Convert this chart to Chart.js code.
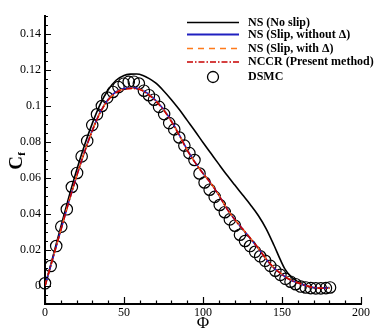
<!DOCTYPE html>
<html>
<head>
<meta charset="utf-8">
<script src="https://cdn.jsdelivr.net/npm/chart.js@4.4.1/dist/chart.umd.min.js"></script>
<style>
html,body{margin:0;padding:0;background:#fff;}
canvas{display:block;}
</style>
</head>
<body>
<canvas id="c" width="374" height="332"></canvas>
<script>
// ---- data ----
const xTicks = [0, 50, 100, 150, 200];
const yTicks = [0, 0.02, 0.04, 0.06, 0.08, 0.1, 0.12, 0.14];

const nsNoSlipX = [0,5,10,15,20,25,30,35,40,45,50,54,58,62,66,70,75,80,85,90,95,100,105,110,115,120,125,130,135,140,145,149,152,155,158,162,166,170,175,180];
const nsNoSlipY = [0,0.0163,0.0328,0.049,0.0643,0.0782,0.0905,0.101,0.109,0.1143,0.117,0.1177,0.1178,0.117,0.1152,0.1128,0.1085,0.1035,0.098,0.092,0.086,0.0797,0.0737,0.0677,0.0618,0.0562,0.0507,0.0452,0.0392,0.0318,0.0225,0.0145,0.0092,0.0058,0.0035,0.0014,-0.0002,-0.001,-0.0011,-0.0009];

const slipX = [0,5,10,15,20,25,30,35,40,45,50,55,60,65,70,75,80,85,90,95,100,105,110,115,120,125,130,135,140,145,150,155,160,165,170,175,180];
const slipNoDeltaY = [0,0.0155,0.031,0.0465,0.061,0.0745,0.0866,0.0967,0.1038,0.1079,0.1097,0.1101,0.1095,0.107,0.1032,0.0982,0.0917,0.084,0.0757,0.0687,0.0626,0.057,0.0505,0.0431,0.037,0.0317,0.0264,0.0208,0.0149,0.0099,0.0064,0.0035,0.0017,0.0002,-0.0008,-0.0012,-0.0012];
const slipDeltaY   = [0,0.0155,0.031,0.0465,0.061,0.0745,0.0865,0.0965,0.1035,0.1076,0.1094,0.1099,0.1093,0.1068,0.103,0.098,0.0915,0.0838,0.0756,0.0686,0.0626,0.0571,0.0506,0.0432,0.0371,0.0318,0.0265,0.021,0.015,0.01,0.0065,0.0036,0.0018,0.0002,-0.0008,-0.0012,-0.0012];
const nccrY        = [0,0.0155,0.031,0.0465,0.061,0.0744,0.0864,0.0964,0.1033,0.1074,0.1092,0.1097,0.1091,0.1066,0.1028,0.0978,0.0913,0.0837,0.0754,0.0685,0.0625,0.057,0.0505,0.043,0.037,0.0318,0.0265,0.021,0.015,0.01,0.0065,0.0035,0.0018,0.0002,-0.0008,-0.0012,-0.0012];

const dsmcX = [0,3.6,7.1,10.3,13.8,17,20.3,23.2,26.7,29.9,32.9,36,39.4,43,46.5,49.8,53,56.2,59.4,62.6,65.8,69,72.2,75.4,78.6,81.8,85,88.2,91.4,94.6,97.8,101,104.2,107.4,110.6,113.8,117,120.2,123.4,126.6,129.8,133,136.2,139.4,142.6,145.8,149,152.2,155.4,158.6,161.8,165,168.2,171.4,174.6,177.8,180.4];
const dsmcY = [0.0015,0.0111,0.0222,0.033,0.0426,0.055,0.0628,0.072,0.0806,0.0894,0.0954,0.1,0.1047,0.1078,0.1105,0.1124,0.1134,0.1135,0.1125,0.1085,0.106,0.1035,0.0995,0.0955,0.0905,0.087,0.0825,0.078,0.0738,0.07,0.0625,0.0575,0.0535,0.0495,0.045,0.041,0.037,0.0335,0.0285,0.025,0.0222,0.019,0.0165,0.014,0.0112,0.0085,0.0062,0.004,0.0024,0.001,-0.0003,-0.0008,-0.0012,-0.0013,-0.0013,-0.0012,-0.0008];

const seriesNames = ['NS (No slip)', 'NS (Slip, without \u0394)', 'NS (Slip, with \u0394)', 'NCCR (Present method)', 'DSMC'];

function pts(xs, ys){ return xs.map((x,i)=>({x:x, y:ys[i]})); }

const SERIF = '"Liberation Serif","Times New Roman",serif';

// inside ticks
const X_MINOR = 10, Y_MINOR = 0.005;
const insideTicks = {
  id:'insideTicks',
  afterDraw(chart){
    const ctx = chart.ctx, xs = chart.scales.x, ys = chart.scales.y;
    const L = chart.chartArea.left, B = chart.chartArea.bottom;
    ctx.save();
    ctx.strokeStyle = '#000';
    ctx.lineWidth = 1.2;
    ctx.beginPath();
    for (let v = xs.min; v <= xs.max + 1e-9; v += X_MINOR){
      const px = Math.round(xs.getPixelForValue(v)) + 0.5;
      const major = Math.abs(v % 50) < 1e-6;
      ctx.moveTo(px, B); ctx.lineTo(px, B - (major ? 7 : 3.5));
    }
    for (let k = 0; ; k++){
      const v = ys.min + k * Y_MINOR;
      if (v > ys.max + 1e-9) break;
      const py = Math.round(ys.getPixelForValue(v)) + 0.5;
      const major = Math.abs(Math.round(v*1000) % 20) === 0;
      ctx.moveTo(L, py); ctx.lineTo(L + (major ? 6 : 3), py);
    }
    ctx.stroke();
    ctx.restore();
  }
};

// titles and legend
const decorations = {
  id:'decorations',
  afterDraw(chart){
    const ctx = chart.ctx;
    ctx.save();
    ctx.fillStyle = '#000';
    // y title C_f (rotated)
    ctx.translate(17, 160);
    ctx.rotate(-Math.PI/2);
    ctx.font = 'bold 19px ' + SERIF;
    ctx.textAlign = 'center';
    ctx.textBaseline = 'middle';
    ctx.fillText('C', -3, 0);
    ctx.font = 'bold 11px ' + SERIF;
    ctx.fillText('f', 6, 5);
    ctx.restore();

    ctx.save();
    ctx.fillStyle = '#000';
    ctx.font = '17px ' + SERIF;
    ctx.textAlign = 'center';
    ctx.textBaseline = 'middle';
    ctx.fillText('\u03A6', 203, 324);

    // legend
    const x0 = 187, x1 = 239, tx = 248;
    const rows = [22.5, 34.5, 48.5, 62, 77];
    const styles = [
      {c:'#000000', w:1.6, d:[]},
      {c:'#2020c0', w:1.8, d:[]},
      {c:'#ff7a1a', w:1.6, d:[6,5]},
      {c:'#c80000', w:1.6, d:[6,2,1.5,2]}
    ];
    ctx.font = 'bold 12px ' + SERIF;
    ctx.textAlign = 'left';
    for (let i = 0; i < 5; i++){
      const y = rows[i];
      if (i < 4){
        ctx.beginPath();
        ctx.strokeStyle = styles[i].c;
        ctx.lineWidth = styles[i].w;
        ctx.setLineDash(styles[i].d);
        ctx.moveTo(x0, y); ctx.lineTo(x1, y);
        ctx.stroke();
        ctx.setLineDash([]);
      } else {
        ctx.beginPath();
        ctx.strokeStyle = '#000';
        ctx.lineWidth = 1.3;
        ctx.arc(213, y, 5.5, 0, Math.PI*2);
        ctx.stroke();
      }
      ctx.fillStyle = '#000';
      ctx.fillText(seriesNames[i], tx, y);
    }
    ctx.restore();
  }
};

new Chart(document.getElementById('c'), {
  type:'scatter',
  data:{
    datasets:[
      {label:seriesNames[4], data:pts(dsmcX, dsmcY), showLine:false, pointRadius:5.7, pointHoverRadius:5.7,
       pointBorderColor:'#000', pointBackgroundColor:'rgba(0,0,0,0)', pointBorderWidth:1.2, clip:false, order:5},
      {label:seriesNames[0], data:pts(nsNoSlipX, nsNoSlipY), showLine:true, pointRadius:0, borderColor:'#000', borderWidth:1.6, cubicInterpolationMode:'monotone', order:4},
      {label:seriesNames[1], data:pts(slipX, slipNoDeltaY), showLine:true, pointRadius:0, borderColor:'#2020c0', borderWidth:1.6, cubicInterpolationMode:'monotone', order:3},
      {label:seriesNames[2], data:pts(slipX, slipDeltaY), showLine:true, pointRadius:0, borderColor:'#ff7a1a', borderWidth:1.5, borderDash:[6,5], cubicInterpolationMode:'monotone', order:2},
      {label:seriesNames[3], data:pts(slipX, nccrY), showLine:true, pointRadius:0, borderColor:'#c80000', borderWidth:1.5, borderDash:[6,2,1.5,2], cubicInterpolationMode:'monotone', order:1}
    ]
  },
  options:{
    responsive:false,
    animation:false,
    devicePixelRatio:1,
    layout:{padding:{top:16, right:13, left:0, bottom:0}},
    plugins:{legend:{display:false}, tooltip:{enabled:false}},
    scales:{
      x:{
        type:'linear', min:0, max:200,
        afterBuildTicks(s){ s.ticks = xTicks.map(v=>({value:v})); },
        ticks:{color:'#000', font:{family:SERIF, size:12}, padding:2, maxRotation:0, callback:v=>String(v)},
        grid:{display:false, drawTicks:false},
        border:{display:true, color:'#000', width:2},
        afterFit(s){ s.height = 28; }
      },
      y:{
        type:'linear', min:-0.01, max:0.15,
        afterBuildTicks(s){ s.ticks = yTicks.map(v=>({value:v})); },
        ticks:{color:'#000', font:{family:SERIF, size:12}, padding:4, callback:v=>String(parseFloat(Number(v).toFixed(3)))},
        grid:{display:false, drawTicks:false},
        border:{display:true, color:'#000', width:2},
        afterFit(s){ s.width = 45; }
      }
    }
  },
  plugins:[insideTicks, decorations]
});
</script>
</body>
</html>
